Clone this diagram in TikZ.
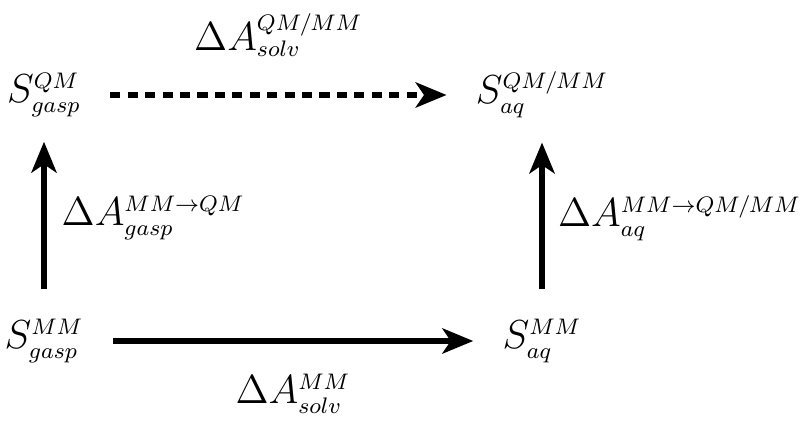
\documentclass[tikz,border=0pt]{standalone}
\usetikzlibrary{positioning,arrows.meta}
\DeclareMathSizes{14}{14}{8.2}{6}

\begin{document}
\begin{tikzpicture}[every node/.style={font=\fontsize{14}{17}\selectfont, inner sep=0pt},
    stepline/.style={line width=1.8pt, -{Stealth[length=11pt,width=9pt,inset=3pt]},
                     shorten >=0.36cm, shorten <=0.36cm},
    node distance=3.075cm and 6.225cm, on grid]
    \useasboundingbox (0,0) rectangle (10,5.325);
    \node (gaspMM) at (0.55,1.0625) {$S^{MM}_{gasp}$};
    \node[above=of gaspMM] (gaspQM) {$S^{QM}_{gasp}$};
    \node[right=of gaspMM] (aqMM) {$S^{MM}_{aq}$};
    \node[right=of gaspQM] (aqQM) {$S^{QM/MM}_{aq}$};
    \draw[stepline, dash pattern=on 3.6pt off 2.6pt] (gaspQM.east) -- (gaspQM.east -| aqQM.west)
        node[midway, above=0.45cm] (solvQM) {$\Delta A^{QM/MM}_{solv}$};
    \draw[stepline] (gaspMM.east) -- (gaspMM.east -| aqMM.west)
        node[midway, below=0.38cm] (solvMM) {$\Delta A^{MM}_{solv}$};
    \draw[stepline, shorten >=0.3cm] (gaspMM.north) -- (gaspQM.south)
        node[midway, right=0.19cm] (gaspDA) {$\Delta A^{MM\rightarrow QM}_{gasp}$};
    \draw[stepline, shorten >=0.3cm] (aqMM.north) -- (aqMM.north |- aqQM.south)
        node[midway, right=0.17cm] (aqDA) {$\Delta A^{MM\rightarrow QM/MM}_{aq}$};
\end{tikzpicture}
\end{document}
